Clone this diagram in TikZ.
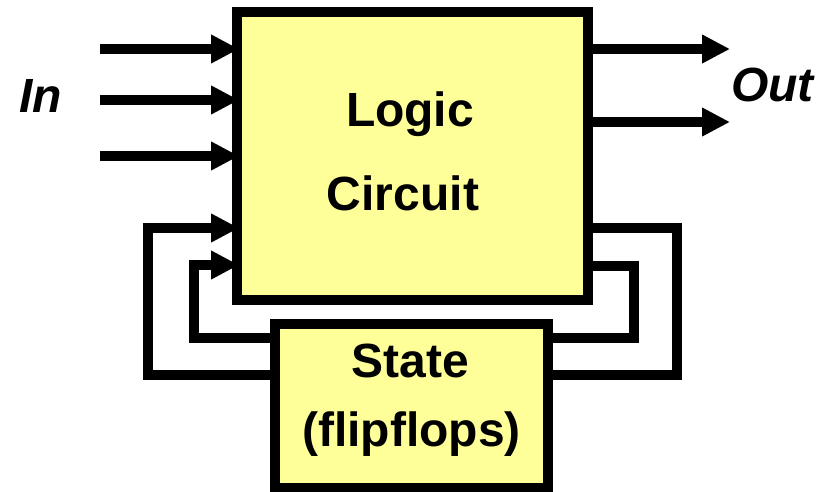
\documentclass[tikz,border=0pt]{standalone}
\usepackage{fontspec}
\setmainfont{Liberation Sans}
\usetikzlibrary{arrows.meta}
\definecolor{boxyellow}{RGB}{255,255,153}
\tikzset{
  blockbox/.style={draw=black, fill=boxyellow, line width=10pt, inner sep=0pt, line join=miter},
  wire/.style={line width=10pt, line join=miter},
  arrowwire/.style={wire, -{Triangle[length=28pt,width=27pt]}},
  bigtext/.style={font=\fontsize{48}{52}\selectfont\bfseries, anchor=base, inner sep=0pt},
  italtext/.style={font=\fontsize{48}{52}\selectfont\bfseries\itshape, anchor=base west, inner sep=0pt}
}
\begin{document}
\begin{tikzpicture}[x=1pt,y=-1pt]
\useasboundingbox (0,0) rectangle (837,492);
% boxes
\node[blockbox, minimum width=351pt, minimum height=288pt] (main) at (412.5,156) {};
\node[blockbox, minimum width=273pt, minimum height=164pt] (st) at (411.5,406) {};
% texts
\node[bigtext] (t1) at (410,126.7) {Logic};
\node[bigtext] (t2) at (403,210) {Circuit};
\node[bigtext] (t3) at (410.5,377.3) {State};
\node[bigtext] (t4) at (411.5,446.7) {(flipflops)};
\node[italtext] (tin) at (19,113) {In};
\node[italtext] (tout) at (731,101.7) {Out};
% input arrows
\coordinate (i1) at (100,49);
\coordinate (i2) at (100,100);
\coordinate (i3) at (100,156);
\draw[arrowwire] (i1) -- ([xshift=7pt]i1 -| main.west);
\draw[arrowwire] (i2) -- ([xshift=7pt]i2 -| main.west);
\draw[arrowwire] (i3) -- ([xshift=7pt]i3 -| main.west);
% output arrows
\coordinate (o1) at (730,49);
\coordinate (o2) at (730,122);
\draw[arrowwire] (o1 -| main.east) -- (o1);
\draw[arrowwire] (o2 -| main.east) -- (o2);
% feedback corners
\coordinate (lo1) at (148,375);
\coordinate (lo2) at (148,228);
\coordinate (li1) at (194,338);
\coordinate (li2) at (194,265);
\coordinate (ro1) at (677,228);
\coordinate (ro2) at (677,375);
\coordinate (ri1) at (634,266);
\coordinate (ri2) at (634,338);
% left feedback
\draw[arrowwire] (lo1 -| st.west) -- (lo1) -- (lo2) -- ([xshift=7pt]lo2 -| main.west);
\draw[arrowwire] (li1 -| st.west) -- (li1) -- (li2) -- ([xshift=7pt]li2 -| main.west);
% right feedback
\draw[wire] (ro1 -| main.east) -- (ro1) -- (ro2) -- (ro2 -| st.east);
\draw[wire] (ri1 -| main.east) -- (ri1) -- (ri2) -- (ri2 -| st.east);
\end{tikzpicture}
\end{document}
